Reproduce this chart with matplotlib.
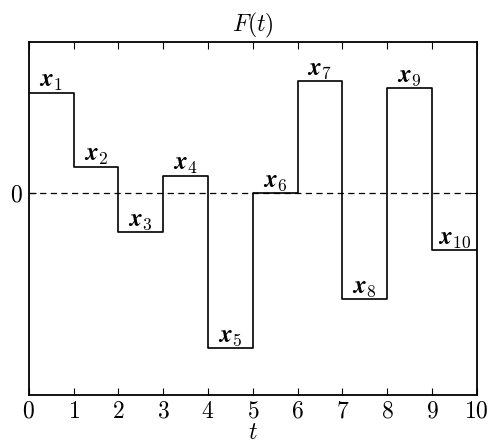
import numpy as np
import matplotlib
matplotlib.use('Agg')
import matplotlib.pyplot as plt

plt.rcParams['mathtext.fontset'] = 'cm'
plt.rcParams['font.family'] = 'serif'
plt.rcParams['font.serif'] = ['cmr10']
plt.rcParams['axes.formatter.use_mathtext'] = True

# step heights
levels = [2.0, 0.52, -0.76, 0.35, -3.06, 0.0, 2.23, -2.09, 2.08, -1.125]
names = [r'$\boldsymbol{x}_{\mathbf{%d}}$' % (i + 1) for i in range(len(levels))]
edges = np.arange(len(levels) + 1)

fig = plt.figure(figsize=(4.89, 4.43), dpi=100)
ax = fig.add_axes([0.059, 0.108, 0.916, 0.797])

ax.step(edges, levels + [levels[-1]], where='post', color='k', lw=1.2)
ax.axhline(0, color='k', ls='--', lw=0.9, dashes=(5, 3.5))

for i, (v, s) in enumerate(zip(levels, names)):
    ax.text(i + 0.5, v, s, ha='center', va='bottom', fontsize=18)

ax.set_xlim(0, 10)
ax.set_ylim(-4, 3)
ax.set_xticks(edges)
ax.set_xticklabels([r'$%d$' % e for e in edges], fontsize=17)
ax.set_yticks([0])
ax.set_yticklabels([r'$0$'], fontsize=17)
ax.tick_params(direction='in', length=5, width=0.8, top=True, right=True, pad=4)
for sp in ax.spines.values():
    sp.set_linewidth(1.3)

ax.set_title(r'$F(t)$', fontsize=17, pad=8)
ax.set_xlabel(r'$t$', fontsize=17, labelpad=-1)

fig.savefig('out.png', dpi=100)
